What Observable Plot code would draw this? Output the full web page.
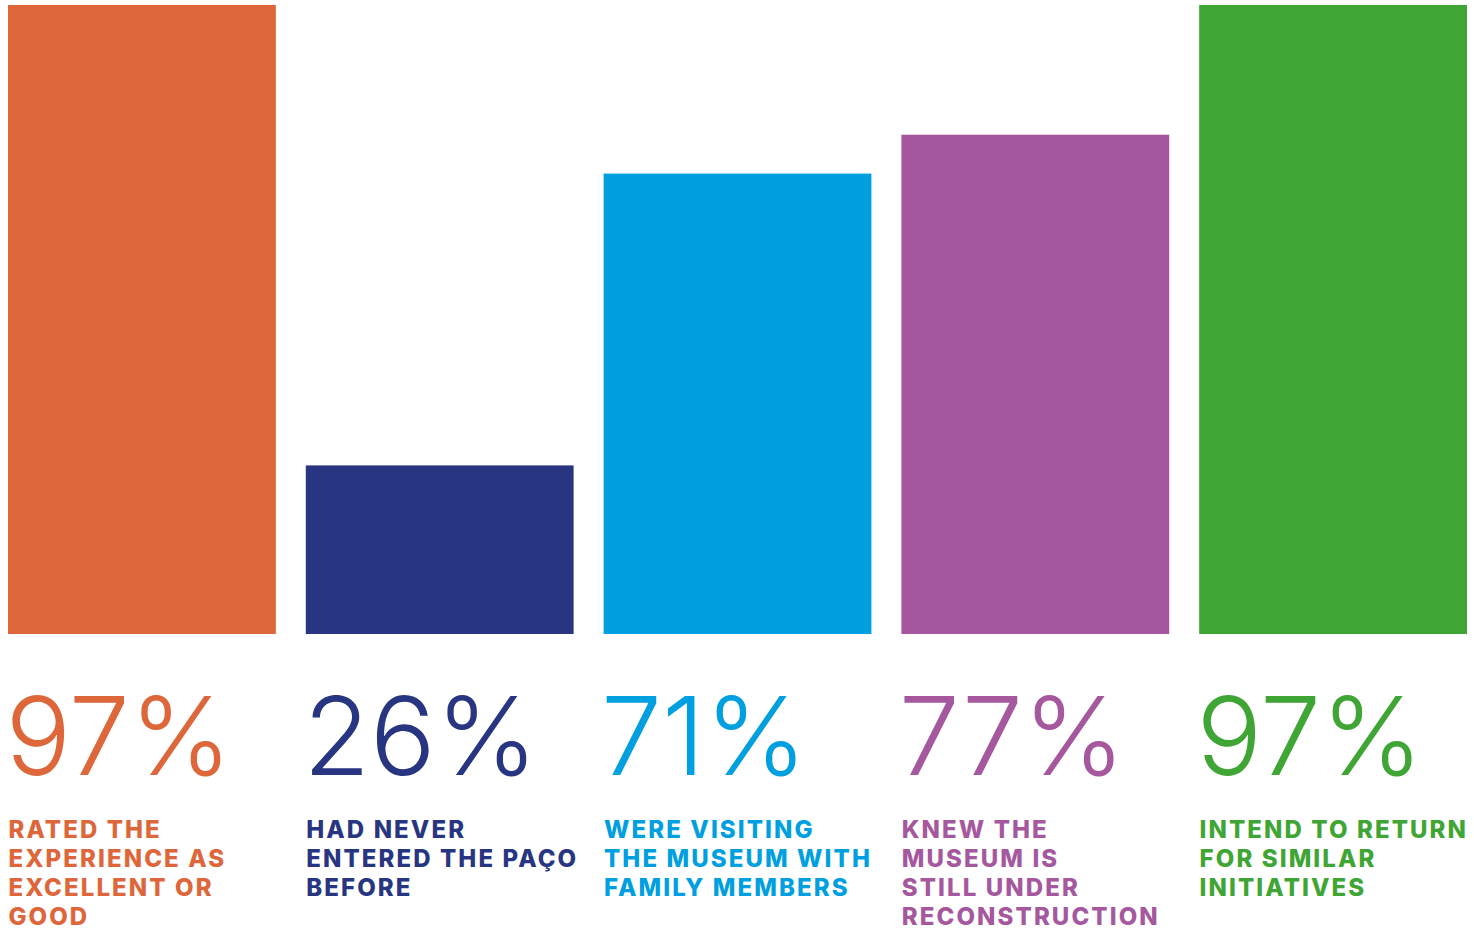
<!DOCTYPE html>
<html><head><meta charset="utf-8">
<script src="https://cdn.jsdelivr.net/npm/d3@7"></script>
<script src="https://cdn.jsdelivr.net/npm/@observablehq/plot@0.6"></script>
<style>
html,body{margin:0;padding:0;background:#fff;}
#chart{width:1474px;height:928px;overflow:hidden;}
</style></head>
<body><div id="chart"></div>
<script>
const categories = ["rated", "never", "family", "knew", "return"];
const values = [97, 26, 71, 77, 97];
const valueLabels = ["97%", "26%", "71%", "77%", "97%"];
const descriptions = [
  "RATED THE\nEXPERIENCE AS\nEXCELLENT OR\nGOOD",
  "HAD NEVER\nENTERED THE PAÇO\nBEFORE",
  "WERE VISITING\nTHE MUSEUM WITH\nFAMILY MEMBERS",
  "KNEW THE\nMUSEUM IS\nSTILL UNDER\nRECONSTRUCTION",
  "INTEND TO RETURN\nFOR SIMILAR\nINITIATIVES"
];
const colors = ["#DD673B", "#283682", "#009FE0", "#A5589E", "#3FA535"];

const data = categories.map((c, i) => ({cat: c, value: values[i], label: valueLabels[i], desc: descriptions[i], color: colors[i]}));

const half = 134;
const plot = Plot.plot({
  width: 1474,
  height: 928,
  margin: 0,
  x: {domain: categories, range: [8, 1467], paddingInner: 30/298, paddingOuter: 0, round: false, axis: null},
  y: {domain: [0, 97], range: [634, 5], axis: null},
  color: {type: "identity"},
  marks: [
    Plot.barY(data, {x: "cat", y: "value", fill: "color"}),
    Plot.text(data, {x: "cat", y: 0, text: "label", fill: "color", textAnchor: "start", lineAnchor: "bottom",
      dx: -half - 3, dy: 140, fontSize: 109, fontWeight: 300, fontFamily: "Inter"}),
    Plot.text(data, {x: "cat", y: 0, text: "desc", fill: "color", textAnchor: "start", lineAnchor: "top",
      dx: -half, dy: 183, fontSize: 24, fontWeight: 800, fontFamily: "Inter", lineHeight: 29/24})
  ]
});
d3.select(plot).selectAll("g").each(function() {
  const fs = this.getAttribute("font-size");
  if (fs === "24") d3.select(this).attr("letter-spacing", "2.1px");
});
document.getElementById("chart").appendChild(plot);
</script></body></html>
